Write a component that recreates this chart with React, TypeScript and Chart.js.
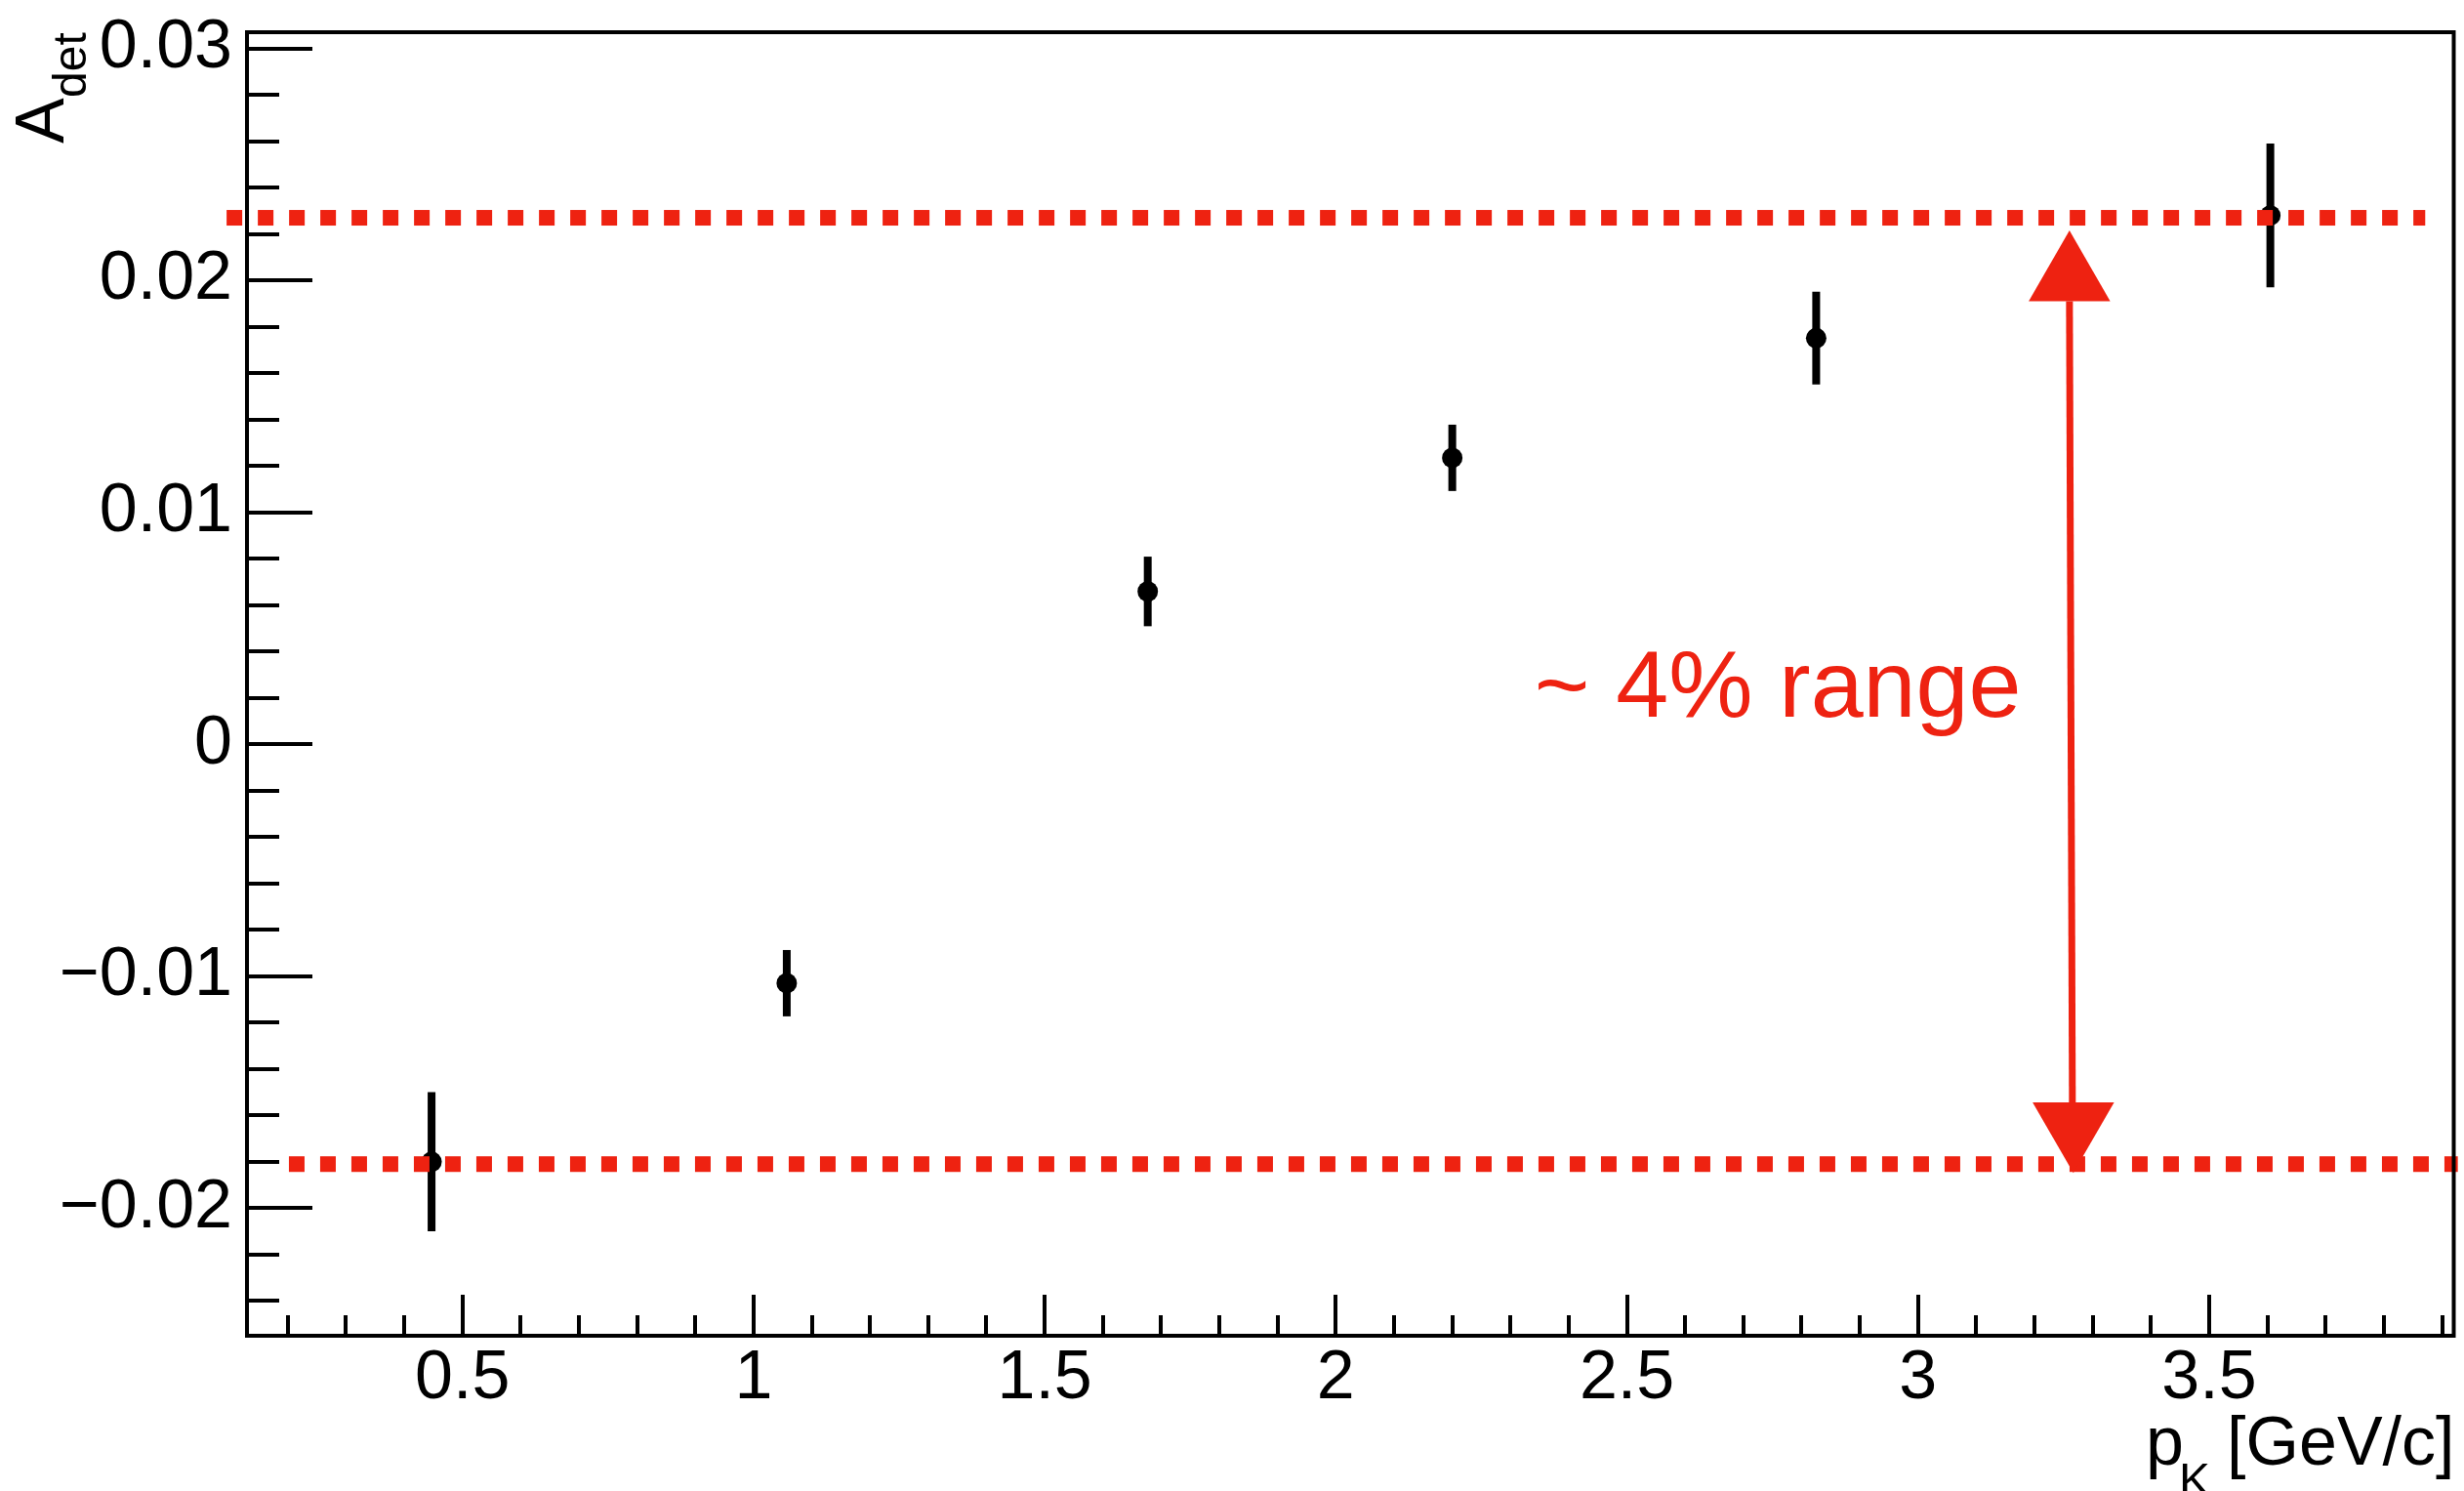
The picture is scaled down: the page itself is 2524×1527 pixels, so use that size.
import React, { useEffect, useRef } from "react";
import { Chart, registerables } from "chart.js";

Chart.register(...registerables);

// ---- data ----
const pK = [0.447, 1.057, 1.677, 2.2, 2.825, 3.605];
const aDet = [-0.018, -0.0103, 0.00659, 0.01235, 0.01751, 0.0228];
const aDetErr = [0.003, 0.00143, 0.0015, 0.00143, 0.002, 0.0031];

// axis ranges and tick steps
const xRange = [0.13, 3.92];
const yRange = [-0.0255, 0.0307];
const xMajorStep = 0.5;
const xMinorPerMajor = 5;
const yMajorStep = 0.01;
const yMinorPerMajor = 5;

// reference (range) lines
const upperLineY = 0.0227;
const upperLineX = [0.095, 3.871];
const lowerLineY = -0.0181;
const lowerLineX = [0.202, 3.927];

// double arrow annotation
const arrowX = 3.26;
const arrowTipTop = 0.02215;
const arrowBaseTop = 0.0191;
const arrowBaseBottom = -0.01544;
const arrowTipBottom = -0.01848;
const arrowHalfWidth = 0.07;

// text annotation
const annotationText = "~ 4% range";
const annotationX = 2.481; // x of the "4"
const annotationY = 0.0012; // baseline

const xTitleMain = "p";
const xTitleSub = "K";
const xTitleRest = "[GeV/c]";
const yTitleMain = "A";
const yTitleSub = "det";

const RED = "#EE2211";
const FONT = "'Liberation Sans', Arial, Helvetica, sans-serif";

const rootPlugin = {
  id: "rootStyle",
  beforeDatasetsDraw(chart: any) {
    const { ctx } = chart;
    const x = chart.scales.x;
    const y = chart.scales.y;
    ctx.save();
    ctx.strokeStyle = "#000";
    ctx.lineWidth = 8;
    ctx.lineCap = "butt";
    pK.forEach((p, i) => {
      const X = x.getPixelForValue(p);
      ctx.beginPath();
      ctx.moveTo(X, y.getPixelForValue(aDet[i] - aDetErr[i]));
      ctx.lineTo(X, y.getPixelForValue(aDet[i] + aDetErr[i]));
      ctx.stroke();
    });
    ctx.restore();
  },
  afterDatasetsDraw(chart: any) {
    const { ctx } = chart;
    const x = chart.scales.x;
    const y = chart.scales.y;
    ctx.save();
    ctx.fillStyle = RED;
    ctx.strokeStyle = RED;
    const ax = x.getPixelForValue(arrowX);
    const hw = x.getPixelForValue(arrowX + arrowHalfWidth) - ax;
    // shaft
    ctx.lineWidth = 7;
    ctx.beginPath();
    ctx.moveTo(ax, y.getPixelForValue(arrowBaseTop));
    ctx.lineTo(ax + 3, y.getPixelForValue(arrowBaseBottom));
    ctx.stroke();
    // heads
    ctx.beginPath();
    ctx.moveTo(ax, y.getPixelForValue(arrowTipTop));
    ctx.lineTo(ax - hw, y.getPixelForValue(arrowBaseTop));
    ctx.lineTo(ax + hw, y.getPixelForValue(arrowBaseTop));
    ctx.closePath();
    ctx.fill();
    ctx.beginPath();
    ctx.moveTo(ax + 4, y.getPixelForValue(arrowTipBottom));
    ctx.lineTo(ax + 4 - hw, y.getPixelForValue(arrowBaseBottom));
    ctx.lineTo(ax + 4 + hw, y.getPixelForValue(arrowBaseBottom));
    ctx.closePath();
    ctx.fill();
    // text
    ctx.font = `97px ${FONT}`;
    ctx.textAlign = "left";
    ctx.textBaseline = "alphabetic";
    const w1 = ctx.measureText("~ ").width;
    ctx.fillText(annotationText, x.getPixelForValue(annotationX) - w1, y.getPixelForValue(annotationY));
    ctx.restore();
  },
  afterDraw(chart: any) {
    const { ctx, chartArea } = chart;
    const x = chart.scales.x;
    const y = chart.scales.y;
    const { left, right, top, bottom } = chartArea;
    ctx.save();
    ctx.strokeStyle = "#000";
    ctx.lineCap = "butt";
    // y ticks
    ctx.lineWidth = 4;
    const yMinor = yMajorStep / yMinorPerMajor;
    const kyStart = Math.ceil(yRange[0] / yMinor - 1e-6);
    const kyEnd = Math.floor(yRange[1] / yMinor + 1e-6);
    for (let k = kyStart; k <= kyEnd; k++) {
      const v = k * yMinor;
      const Y = Math.round(y.getPixelForValue(v));
      const len = k % yMinorPerMajor === 0 ? 67 : 33;
      ctx.beginPath();
      ctx.moveTo(left, Y);
      ctx.lineTo(left + len, Y);
      ctx.stroke();
    }
    // x ticks
    const xMinor = xMajorStep / xMinorPerMajor;
    const kxStart = Math.ceil(xRange[0] / xMinor - 1e-6);
    const kxEnd = Math.floor(xRange[1] / xMinor + 1e-6);
    for (let k = kxStart; k <= kxEnd; k++) {
      const v = k * xMinor;
      const X = Math.round(x.getPixelForValue(v));
      const len = k % xMinorPerMajor === 0 ? 42 : 21;
      ctx.beginPath();
      ctx.moveTo(X, bottom);
      ctx.lineTo(X, bottom - len);
      ctx.stroke();
    }
    // frame
    ctx.lineWidth = 4;
    ctx.strokeRect(left, top, right - left, bottom - top);

    // axis titles
    ctx.fillStyle = "#000";
    ctx.textAlign = "left";
    ctx.textBaseline = "alphabetic";
    // y title (rotated)
    ctx.save();
    ctx.translate(65, 147);
    ctx.rotate(-Math.PI / 2);
    ctx.font = `70px ${FONT}`;
    ctx.fillText(yTitleMain, 0, 0);
    ctx.font = `48px ${FONT}`;
    ctx.fillText(yTitleSub, 47, 23);
    ctx.restore();
    // x title
    ctx.font = `70px ${FONT}`;
    ctx.fillText(xTitleMain, 2198, 1500);
    ctx.font = `48px ${FONT}`;
    ctx.fillText(xTitleSub, 2232, 1532);
    ctx.font = `70px ${FONT}`;
    ctx.textAlign = "right";
    ctx.fillText(xTitleRest, right + 1, 1500);
    ctx.restore();
  },
};

export default function App() {
  const canvasRef = useRef<HTMLCanvasElement | null>(null);

  useEffect(() => {
    const canvas = canvasRef.current;
    if (!canvas) return;
    const chart = new Chart(canvas, {
      type: "scatter",
      data: {
        datasets: [
          {
            type: "line",
            label: "upper",
            data: [
              { x: upperLineX[0], y: upperLineY },
              { x: upperLineX[1], y: upperLineY },
            ],
            borderColor: RED,
            borderWidth: 16,
            borderDash: [16, 16],
            borderCapStyle: "butt",
            pointRadius: 0,
            clip: false,
            order: 0,
          } as any,
          {
            type: "line",
            label: "lower",
            data: [
              { x: lowerLineX[0], y: lowerLineY },
              { x: lowerLineX[1], y: lowerLineY },
            ],
            borderColor: RED,
            borderWidth: 16,
            borderDash: [16, 16],
            borderCapStyle: "butt",
            pointRadius: 0,
            clip: false,
            order: 0,
          } as any,
          {
            type: "scatter",
            label: "A_det",
            data: pK.map((p, i) => ({ x: p, y: aDet[i] })),
            backgroundColor: "#000",
            borderColor: "#000",
            borderWidth: 0,
            pointRadius: 10.5,
            pointHoverRadius: 10.5,
            order: 1,
          },
        ],
      },
      options: {
        animation: false,
        responsive: false,
        devicePixelRatio: 1,
        events: [],
        layout: { padding: { top: 33, right: 8, left: 0, bottom: 0 } },
        plugins: {
          legend: { display: false },
          tooltip: { enabled: false },
          title: { display: false },
        },
        scales: {
          x: {
            type: "linear",
            position: "bottom",
            min: xRange[0],
            max: xRange[1],
            grid: { display: false, drawTicks: false },
            border: { display: false },
            ticks: {
              stepSize: xMajorStep,
              includeBounds: false,
              autoSkip: false,
              maxRotation: 0,
              padding: 3,
              color: "#000",
              font: { family: FONT, size: 70 },
              callback: (v: any) => String(Math.round(Number(v) * 10) / 10),
            },
            afterFit: (s: any) => {
              s.height = 159;
              s.paddingLeft = 0;
              s.paddingRight = 0;
            },
          },
          y: {
            type: "linear",
            position: "left",
            min: yRange[0],
            max: yRange[1],
            grid: { display: false, drawTicks: false },
            border: { display: false },
            ticks: {
              stepSize: yMajorStep,
              includeBounds: false,
              autoSkip: false,
              padding: 15,
              color: "#000",
              font: { family: FONT, size: 70 },
              callback: (v: any) => {
                const n = Math.round(Number(v) * 1000) / 1000;
                if (n === 0) return "0";
                return (n < 0 ? "\u2212" : "") + Math.abs(n).toFixed(2);
              },
            },
            afterFit: (s: any) => {
              s.width = 253;
              s.paddingTop = 0;
              s.paddingBottom = 0;
            },
          },
        },
      },
      plugins: [rootPlugin],
    } as any);
    return () => chart.destroy();
  }, []);

  return (
    <div style={{ position: "fixed", left: 0, top: 0, width: 2524, height: 1527, background: "#fff" }}>
      <canvas ref={canvasRef} width={2524} height={1527} style={{ width: 2524, height: 1527, display: "block" }} />
    </div>
  );
}
